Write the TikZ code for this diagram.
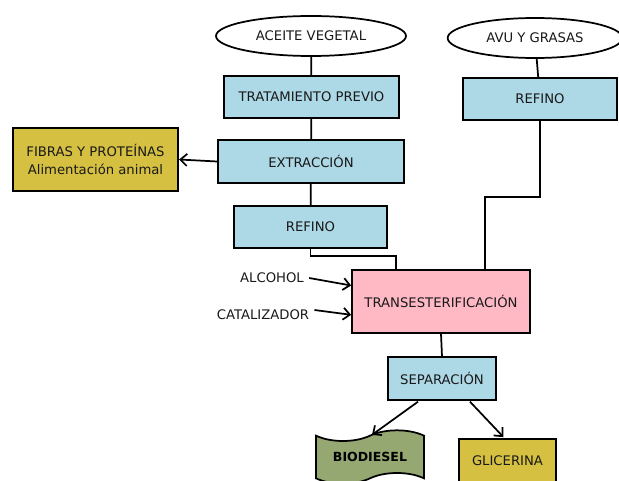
\documentclass[tikz,border=0pt]{standalone}
\usepackage{fontspec}
\setmainfont{DejaVu Sans}
\usetikzlibrary{shapes.geometric,shapes.symbols,arrows.meta,calc}
\definecolor{cajaazul}{RGB}{173,216,230}
\definecolor{cajarosa}{RGB}{255,185,197}
\definecolor{cajaoro}{RGB}{213,192,66}
\definecolor{cajaverde}{RGB}{150,168,114}
\begin{document}
\begin{tikzpicture}[x=0.75pt,y=0.75pt,yscale=-1,xscale=1,
	line width=1.3pt,
	every node/.style={font=\fontsize{9.9}{14}\selectfont, text=black!90},
	proc/.style={draw, rectangle, fill=cajaazul, inner sep=0pt, align=center},
	fuente/.style={draw, ellipse, fill=white, inner sep=0pt},
	flecha/.style={-{Straight Barb[length=5pt,width=9pt,line width=1.3pt]}}]
	\useasboundingbox (0,0) rectangle (619,481);

	% Ellipse Nodes
	\node [fuente, minimum width=142.5pt, minimum height=30pt] (aceite) at (311,36) {ACEITE VEGETAL};
	\node [fuente, minimum width=131pt, minimum height=30pt] (avu) at (535,38) {AVU Y GRASAS};

	% Process Nodes
	\node [proc, minimum width=131pt, minimum height=31.5pt] (tratamiento) at (311.5,97) {TRATAMIENTO PREVIO};
	\node [proc, minimum width=115.5pt, minimum height=31.5pt] (refinoA) at (540,99) {REFINO};
	\node [proc, minimum width=139.5pt, minimum height=32pt] (extraccion) at (311,161.5) {EXTRACCIÓN};
	\node [proc, minimum width=115pt, minimum height=31.5pt] (refinoB) at (310.5,227) {REFINO};
	\node [proc, fill=cajarosa, minimum width=133.5pt, minimum height=47pt] (trans) at (441,301.5) {TRANSESTERIFICACIÓN};
	\node [proc, minimum width=81pt, minimum height=32pt] (separacion) at (442,378.5) {SEPARACIÓN};

	% Product Nodes
	\node [proc, fill=cajaoro, minimum width=124pt, minimum height=47pt] (fibras) at (95.5,159.5) {FIBRAS Y PROTEÍNAS\\Alimentación animal};
	\node [proc, fill=cajaoro, minimum width=73pt, minimum height=33pt] (glicerina) at (507.5,461) {GLICERINA};
	\node [draw, tape, fill=cajaverde, minimum width=81pt, minimum height=40pt, inner sep=0pt,
		tape bend height=8pt,
		font=\fontsize{9.4}{11}\selectfont\bfseries, text=black] (biodiesel) at (370,457) {BIODIESEL};

	% Text Node
	\node (alcohol) at (272,278) {ALCOHOL};
	\node (catalizador) at (263,315) {CATALIZADOR};

	% Junctions on top of trans
	\coordinate (entradaA) at (396,270);
	\coordinate (entradaB) at (485,270);

	%Straight Lines
	\draw (aceite) -- (tratamiento);
	\draw (avu) -- (refinoA);
	\draw (tratamiento) -- (extraccion);
	\draw (extraccion) -- (refinoB);
	\draw [flecha] (extraccion.west) -- (fibras.east);
	\draw (refinoB.south) -- ++(0,7) -| (entradaA);
	\draw (refinoA.south) -- ++(0,76) -| (entradaB);
	\draw [flecha] (alcohol.east) -- ([yshift=-12pt]trans.west);
	\draw [flecha] ($(catalizador.east)+(0,-5)$) -- ([yshift=10pt]trans.west);
	\draw (trans.south) -- (separacion.north);
	\draw [flecha] ($(separacion.south)+(-24,1)$) -- ($(biodiesel.north)+(2,0)$);
	\draw [flecha] ($(separacion.south)+(28,1)$) -- ($(glicerina.north)+(-4,-1)$);
\end{tikzpicture}
\end{document}
